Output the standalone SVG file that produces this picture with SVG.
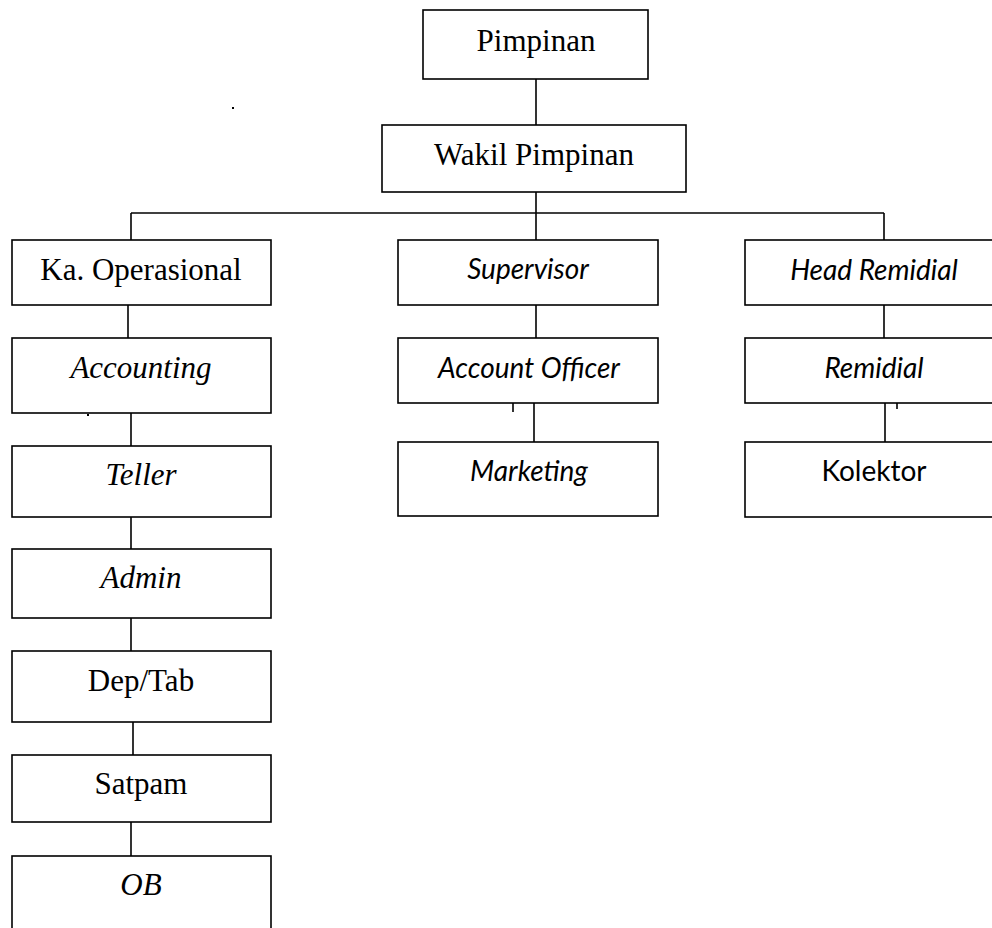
<svg xmlns="http://www.w3.org/2000/svg" width="992" height="928" viewBox="0 0 992 928">
  <style>
    .box { fill: #ffffff; stroke: #000000; stroke-width: 1.6; }
    .link { fill: none; stroke: #000000; stroke-width: 1.6; }
    .serif { font-family: "Liberation Serif", "Times New Roman", serif; font-size: 31px; fill: #000000; text-anchor: middle; }
    .sans { font-family: Lato, "Open Sans", "Liberation Sans", sans-serif; font-size: 28px; fill: #000000; text-anchor: middle; }
    .it { font-style: italic; }
  </style>
  <rect width="992" height="928" fill="#ffffff"/>

  <!-- connectors -->
  <g id="connectors">
    <line class="link" x1="536" y1="79" x2="536" y2="125"/>
    <line class="link" x1="536" y1="192" x2="536" y2="213"/>
    <line class="link" x1="131" y1="213" x2="884" y2="213"/>
    <line class="link" x1="131" y1="213" x2="131" y2="240"/>
    <line class="link" x1="536" y1="213" x2="536" y2="240"/>
    <line class="link" x1="884" y1="213" x2="884" y2="240"/>
    <line class="link" x1="128" y1="303" x2="128" y2="338"/>
    <line class="link" x1="131" y1="413" x2="131" y2="446"/>
    <line class="link" x1="131" y1="517" x2="131" y2="549"/>
    <line class="link" x1="131" y1="618" x2="131" y2="651"/>
    <line class="link" x1="133" y1="722" x2="133" y2="755"/>
    <line class="link" x1="131" y1="822" x2="131" y2="856"/>
    <line class="link" x1="536" y1="305" x2="536" y2="338"/>
    <line class="link" x1="534" y1="399" x2="534" y2="442"/>
    <line class="link" x1="884" y1="305" x2="884" y2="338"/>
    <line class="link" x1="885" y1="403" x2="885" y2="442"/>
    <!-- stray ticks -->
    <line class="link" x1="513" y1="403" x2="513" y2="412"/>
    <line class="link" x1="897" y1="403" x2="897" y2="409"/>
    <rect x="87" y="414" width="2" height="2" fill="#000000"/>
    <rect x="232" y="107" width="2" height="2" fill="#000000"/>
  </g>

  <g id="pimpinan">
    <rect class="box" x="423" y="10" width="225" height="69"/>
    <text class="serif" x="536" y="51">Pimpinan</text>
  </g>
  <g id="wakil-pimpinan">
    <rect class="box" x="382" y="125" width="304" height="67"/>
    <text class="serif" x="534" y="165">Wakil Pimpinan</text>
  </g>

  <g id="ka-operasional">
    <rect class="box" x="12" y="240" width="259" height="65"/>
    <text class="serif" x="141" y="280">Ka. Operasional</text>
  </g>
  <g id="accounting">
    <rect class="box" x="12" y="338" width="259" height="75"/>
    <text class="serif it" x="141" y="378">Accounting</text>
  </g>
  <g id="teller">
    <rect class="box" x="12" y="446" width="259" height="71"/>
    <text class="serif it" x="141" y="485">Teller</text>
  </g>
  <g id="admin">
    <rect class="box" x="12" y="549" width="259" height="69"/>
    <text class="serif it" x="141" y="588">Admin</text>
  </g>
  <g id="dep-tab">
    <rect class="box" x="12" y="651" width="259" height="71"/>
    <text class="serif" x="141" y="691">Dep/Tab</text>
  </g>
  <g id="satpam">
    <rect class="box" x="12" y="755" width="259" height="67"/>
    <text class="serif" x="141" y="794">Satpam</text>
  </g>
  <g id="ob">
    <rect class="box" x="12" y="856" width="259" height="90"/>
    <text class="serif it" x="141" y="895">OB</text>
  </g>

  <g id="supervisor">
    <rect class="box" x="398" y="240" width="260" height="65"/>
    <text class="sans it" x="528" y="279">Supervisor</text>
  </g>
  <g id="account-officer">
    <rect class="box" x="398" y="338" width="260" height="65"/>
    <text class="sans it" x="529" y="378">Account Officer</text>
  </g>
  <g id="marketing">
    <rect class="box" x="398" y="442" width="260" height="74"/>
    <text class="sans it" x="529" y="481">Marketing</text>
  </g>

  <g id="head-remidial">
    <rect class="box" x="745" y="240" width="258" height="65"/>
    <text class="sans it" x="874" y="280">Head Remidial</text>
  </g>
  <g id="remidial">
    <rect class="box" x="745" y="338" width="258" height="65"/>
    <text class="sans it" x="874" y="378">Remidial</text>
  </g>
  <g id="kolektor">
    <rect class="box" x="745" y="442" width="258" height="75"/>
    <text class="sans" x="874" y="481">Kolektor</text>
  </g>
</svg>
